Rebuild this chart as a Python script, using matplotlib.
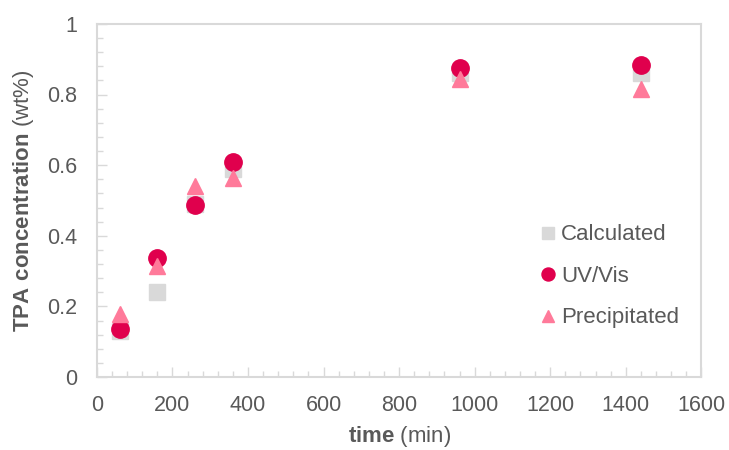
import matplotlib.pyplot as plt
from matplotlib.ticker import MultipleLocator

plt.rcParams['font.family'] = ['Liberation Sans', 'DejaVu Sans']
plt.rcParams['mathtext.fontset'] = 'custom'
plt.rcParams['mathtext.bf'] = 'Liberation Sans:bold'
plt.rcParams['mathtext.rm'] = 'Liberation Sans'

# time points (min)
tiempo = [60, 160, 260, 360, 960, 1440]
calculado = [0.13, 0.24, 0.49, 0.59, 0.86, 0.86]
uv_vis = [0.135, 0.336, 0.487, 0.61, 0.874, 0.884]
precipitado = [0.18, 0.315, 0.54, 0.565, 0.845, 0.815]

gris_texto = '#595959'
gris_marco = '#D9D9D9'


def formato_y(v, pos):
    v = round(v, 2)
    if v == 0:
        return '0'
    if v == 1:
        return '1'
    return f'{v:.1f}'


fig = plt.figure(figsize=(7.29, 4.5), dpi=100)
ax = fig.add_axes([0.133, 0.162, 0.829, 0.785])

ax.plot(tiempo, calculado, 's', color='#D9D9D9', markersize=12, label='Calculated')
ax.plot(tiempo, uv_vis, 'o', color='#E0004D', markersize=12.5, label='UV/Vis')
ax.plot(tiempo, precipitado, '^', color='#FF7A9A', markersize=12, label='Precipitated')

ax.set_xlim(0, 1600)
ax.set_ylim(0, 1)
ax.xaxis.set_major_locator(MultipleLocator(200))
ax.xaxis.set_minor_locator(MultipleLocator(40))
ax.yaxis.set_major_locator(MultipleLocator(0.2))
ax.yaxis.set_minor_locator(MultipleLocator(0.04))
ax.yaxis.set_major_formatter(plt.FuncFormatter(formato_y))

for s in ax.spines.values():
    s.set_color(gris_marco)
    s.set_linewidth(1.5)

ax.tick_params(which='both', direction='in', color=gris_marco, labelcolor=gris_texto,
               labelsize=15.5, top=False, right=False)
ax.tick_params(which='major', length=7, width=1)
ax.tick_params(which='minor', length=4, width=1)
ax.tick_params(axis='x', pad=13)
ax.tick_params(axis='y', pad=14)

ax.set_xlabel(r'$\bf{time}$ (min)', fontsize=16, color=gris_texto, labelpad=6)
ax.set_ylabel(r'$\bf{TPA\ concentration}$ (wt%)', fontsize=16, color=gris_texto, labelpad=8)

ax.legend(loc='upper left', bbox_to_anchor=(0.735, 0.432), borderaxespad=0, borderpad=0,
          frameon=False, fontsize=16, markerscale=0.75, handletextpad=0.3,
          labelspacing=0.92, handlelength=0.6, labelcolor=gris_texto)

plt.savefig('out.png', dpi=100)
